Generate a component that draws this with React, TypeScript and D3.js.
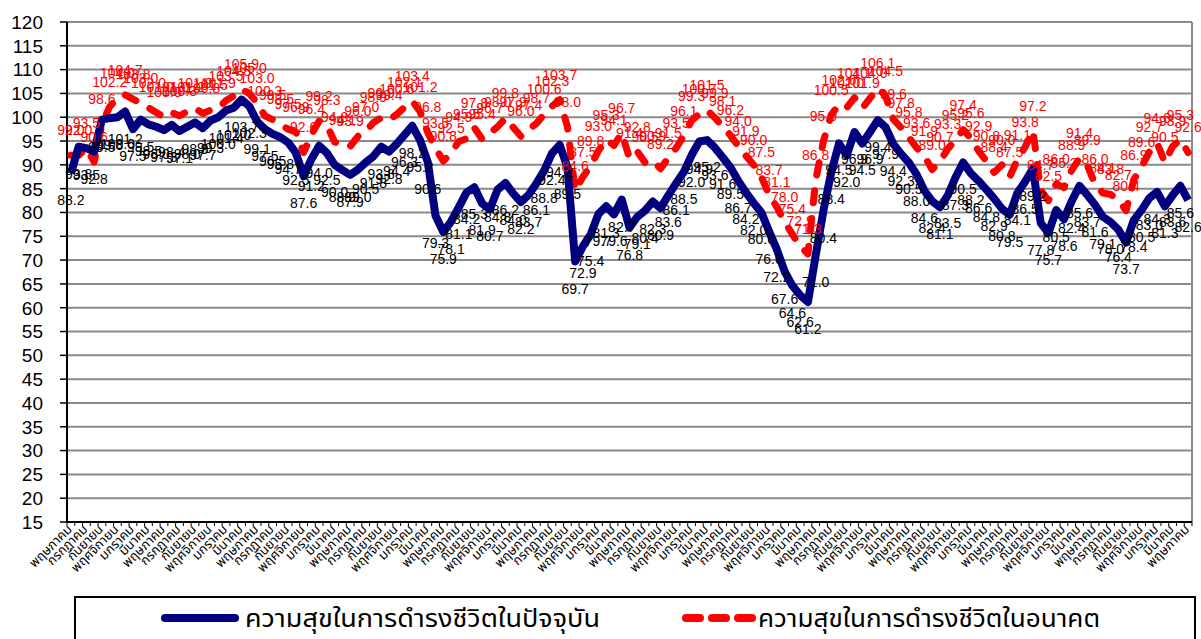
import * as d3 from "d3";

// Thai month names; the axis starts at May
const months = [
  "มกราคม", "กุมภาพันธ์", "มีนาคม", "เมษายน", "พฤษภาคม", "มิถุนายน",
  "กรกฎาคม", "สิงหาคม", "กันยายน", "ตุลาคม", "พฤศจิกายน", "ธันวาคม",
];
const startMonth = 4;

const current = [
  88.2, 93.8, 93.5, 92.8, 99.5, 99.8, 100.0, 101.2, 97.5, 99.5,
  98.5, 98.0, 97.3, 98.4, 97.1, 98.0, 98.9, 97.7, 99.3, 100.0,
  101.4, 102.0, 103.7, 102.3, 99.1, 97.5, 96.5, 95.8, 94.7, 92.5,
  87.6, 91.2, 94.0, 92.5, 90.0, 88.9, 87.9, 89.0, 90.5, 91.8,
  93.8, 92.8, 94.4, 96.3, 98.2, 95.2, 90.6, 79.3, 75.9, 78.1,
  81.1, 84.2, 85.3, 81.9, 80.7, 84.8, 86.2, 84.0, 82.2, 83.7,
  86.1, 88.8, 92.4, 94.2, 89.5, 69.7, 72.9, 75.4, 79.7, 81.3,
  79.6, 82.7, 76.8, 79.1, 80.4, 82.3, 80.9, 83.6, 86.1, 88.5,
  92.0, 94.9, 95.2, 93.6, 91.6, 89.5, 86.7, 84.2, 82.0, 80.0,
  76.0, 72.2, 67.6, 64.6, 62.6, 61.2, 71.0, 80.4, 88.4, 94.5,
  92.0, 96.9, 94.5, 96.9, 99.4, 97.9, 94.4, 92.3, 90.5, 88.0,
  84.6, 82.4, 81.1, 83.5, 87.3, 90.5, 88.2, 86.6, 84.8, 82.9,
  80.8, 79.5, 84.1, 86.5, 89.2, 77.8, 75.7, 80.5, 78.6, 82.4,
  85.6, 83.7, 81.6, 79.1, 78.0, 76.4, 73.7, 78.4, 80.5, 83.0,
  84.3, 81.3, 83.6, 85.6, 82.6,
];

const future = [
  92.0, 92.0, 93.5, 90.6, 98.6, 102.2, 104.0, 104.7, 103.8, 103.0,
  102.0, 101.0, 100.0, 101.0, 100.3, 101.2, 101.9, 100.8, 101.5, 101.9,
  103.5, 104.5, 105.9, 105.0, 103.0, 100.3, 99.5, 98.5, 97.5, 96.9,
  92.6, 96.4, 99.2, 98.3, 94.8, 94.1, 93.9, 96.0, 97.0, 98.9,
  99.9, 99.4, 100.6, 102.1, 103.4, 101.2, 96.8, 93.5, 90.8, 92.5,
  94.9, 95.5, 97.8, 95.4, 96.7, 98.0, 99.8, 97.9, 96.0, 97.4,
  98.7, 100.6, 102.3, 103.7, 98.0, 84.6, 87.5, 89.8, 93.0, 95.3,
  94.1, 96.7, 91.4, 92.8, 90.5, 90.9, 89.2, 91.5, 93.5, 96.1,
  99.3, 100.7, 101.5, 99.9, 98.1, 96.2, 94.0, 91.9, 90.0, 87.5,
  83.7, 81.1, 78.0, 75.4, 72.9, 71.3, 86.8, 95.0, 100.5, 102.6,
  102.0, 104.1, 101.9, 104.0, 106.1, 104.5, 99.6, 97.8, 95.8, 93.6,
  91.9, 89.0, 90.7, 93.3, 95.2, 97.4, 95.6, 92.9, 90.8, 88.4,
  90.0, 87.5, 91.1, 93.8, 97.2, 84.7, 82.5, 86.0, 85.2, 88.9,
  91.4, 89.9, 86.0, 84.1, 83.8, 82.7, 80.4, 86.9, 89.6, 92.7,
  94.6, 90.5, 93.9, 95.3, 92.6,
];

const yTicks = d3.range(15, 121, 5);
const seriesNames = [
  "ความสุขในการดำรงชีวิตในปัจจุบัน",
  "ความสุขในการดำรงชีวิตในอนาคต",
];

const W = 1201;
const H = 639;
const left = 67;
const right = 1192;
const top = 22;
const bottom = 522;

export default function App() {
  const idx = current.map((_, i) => i);
  const x = d3.scaleBand<number>().domain(idx).range([left, right]);
  const cx = (i: number) => (x(i) as number) + x.bandwidth() / 2;
  const y = d3.scaleLinear().domain([15, 120]).range([bottom, top]);

  const line = d3
    .line<number>()
    .x((_, i) => cx(i))
    .y((d) => y(d));

  const cats = idx.map((i) => months[(startMonth + i) % 12]);
  const thai = "'Noto Sans Thai', 'Noto Sans', Tahoma, sans-serif";

  return (
    <svg
      width={W}
      height={H}
      style={{ position: "absolute", left: 0, top: 0, background: "#fff" }}
    >
      {/* grid */}
      {yTicks.map((t) => (
        <line
          key={t}
          x1={left}
          x2={right}
          y1={y(t)}
          y2={y(t)}
          stroke="#8a8a8a"
          strokeWidth={2}
        />
      ))}
      <line x1={right} x2={right} y1={top} y2={bottom} stroke="#8a8a8a" strokeWidth={2} />

      {/* y axis */}
      <line x1={left} x2={left} y1={top} y2={bottom + 1} stroke="#000" strokeWidth={2} />
      {yTicks.map((t) => (
        <g key={"yt" + t}>
          <line x1={left - 7} x2={left} y1={y(t)} y2={y(t)} stroke="#000" strokeWidth={1.5} />
          <text
            x={43}
            y={y(t)}
            dy="0.36em"
            textAnchor="end"
            fontFamily="'Liberation Sans', Arial, sans-serif"
            fontSize={19}
            fill="#000"
          >
            {t}
          </text>
        </g>
      ))}

      {/* x axis */}
      <line x1={left} x2={right} y1={bottom} y2={bottom} stroke="#000" strokeWidth={2} />
      {d3.range(idx.length + 1).map((k) => {
        const xx = left + k * x.bandwidth();
        return <line key={"xt" + k} x1={xx} x2={xx} y1={bottom} y2={bottom + 4} stroke="#000" strokeWidth={1} />;
      })}
      {cats.map((c, i) =>
        i % 2 === 0 ? (
          <text
            key={"xl" + i}
            transform={`translate(${cx(i) + 2},${bottom + 8}) rotate(-45)`}
            textAnchor="end"
            fontFamily={thai}
            fontSize={13}
            fill="#000"
          >
            {c}
          </text>
        ) : null
      )}

      {/* lines */}
      <path
        d={line(future) || ""}
        fill="none"
        stroke="#ff0000"
        strokeWidth={7}
        strokeDasharray="12 16"
        strokeLinecap="round"
        strokeLinejoin="round"
      />
      <path
        d={line(current) || ""}
        fill="none"
        stroke="#000080"
        strokeWidth={8}
        strokeLinejoin="round"
      />

      {/* data labels */}
      <g fontFamily="'Liberation Sans', Arial, sans-serif" fontSize={14} textAnchor="middle">
        {future.map((v, i) => (
          <text key={"fl" + i} x={cx(i)} y={y(v) - 20} fill="#ff0000">
            {v.toFixed(1)}
          </text>
        ))}
        {current.map((v, i) => (
          <text key={"cl" + i} x={cx(i)} y={y(v) + 32} fill="#000">
            {v.toFixed(1)}
          </text>
        ))}
      </g>

      {/* legend */}
      <rect x={75} y={597} width={1120} height={60} fill="#fff" stroke="#000" strokeWidth={2} />
      <line x1={165} x2={235} y1={618} y2={618} stroke="#000080" strokeWidth={8} strokeLinecap="round" />
      <text x={245} y={627} fontFamily={thai} fontSize={24} textLength={355} lengthAdjust="spacingAndGlyphs">
        {seriesNames[0]}
      </text>
      <line
        x1={686}
        x2={755}
        y1={618}
        y2={618}
        stroke="#ff0000"
        strokeWidth={8}
        strokeDasharray="14 12"
        strokeLinecap="round"
      />
      <text x={758} y={627} fontFamily={thai} fontSize={24} textLength={342} lengthAdjust="spacingAndGlyphs">
        {seriesNames[1]}
      </text>
    </svg>
  );
}
